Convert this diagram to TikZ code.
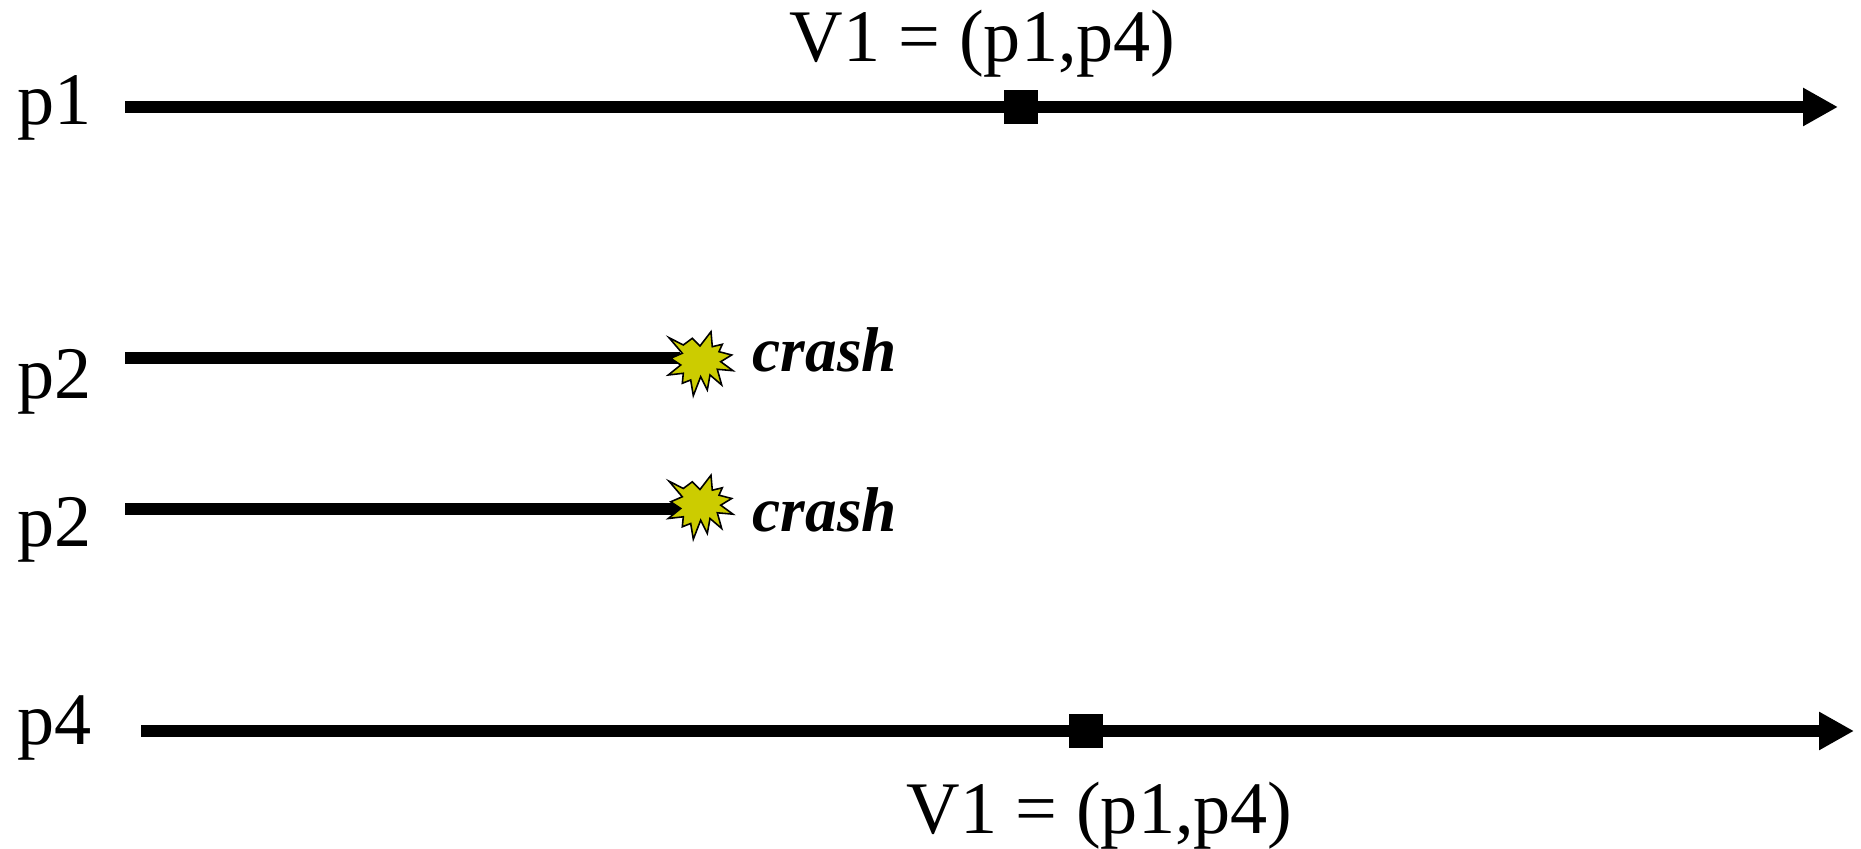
\documentclass[tikz,border=0pt]{standalone}
\usepackage{fontspec}
\setmainfont{Liberation Serif}
\usepackage{xcolor}
\usetikzlibrary{arrows.meta}
\definecolor{burst}{HTML}{CCCC00}
\tikzset{
  every picture/.style={line join=miter},
  timeline/.style={line width=3.6pt},
  arrowline/.style={timeline,-{Triangle[length=0.35cm,width=0.36cm]}},
  proclabel/.style={anchor=base west,inner sep=0pt,font=\fontsize{21.1}{24}\selectfont},
  crashlabel/.style={anchor=base west,inner sep=0pt,font=\fontsize{18}{22}\selectfont\bfseries\itshape},
  markbox/.style={fill=black,inner sep=0pt,minimum size=0.34cm},
  crashstar/.pic={
    \filldraw[fill=burst,draw=black,line width=0.45pt]
      (-0.310,0.223)--(-0.167,0.150)--(-0.077,0.217)--(0.000,0.140)--(0.110,0.283)--(0.123,0.133)
      --(0.223,0.157)--(0.190,0.083)--(0.317,0.050)--(0.207,-0.017)--(0.330,-0.107)--(0.173,-0.093)
      --(0.217,-0.250)--(0.100,-0.150)--(0.073,-0.300)--(0.007,-0.167)--(-0.067,-0.357)--(-0.093,-0.200)
      --(-0.177,-0.233)--(-0.167,-0.133)--(-0.317,-0.150)--(-0.193,-0.050)--(-0.293,0.017)--(-0.177,0.067)--cycle;
  },
}
\begin{document}
\begin{tikzpicture}
\useasboundingbox (0,0) rectangle (18.610,8.490);
\node[proclabel] (p1label) at (0.170,7.240) {p1};
\node[proclabel] (p2label) at (0.170,4.500) {p2};
\node[proclabel] (p3label) at (0.170,3.020) {p2};
\node[proclabel] (p4label) at (0.170,1.040) {p4};
\coordinate (p1start) at (1.250,7.420);
\coordinate (p1end) at (18.380,7.420);
\coordinate (p2start) at (1.250,4.910);
\coordinate (p2end) at (6.800,4.910);
\coordinate (p3start) at (1.250,3.400);
\coordinate (p3end) at (6.800,3.400);
\coordinate (p4start) at (1.410,1.180);
\coordinate (p4end) at (18.540,1.180);
\draw[arrowline] (p1start) -- (p1end);
\draw[timeline] (p2start) -- (p2end);
\draw[timeline] (p3start) -- (p3end);
\draw[arrowline] (p4start) -- (p4end);
\node[markbox] (p1view) at (10.210,7.420) {};
\node[markbox] (p4view) at (10.860,1.180) {};
\node[proclabel] (p1viewlabel) at (7.890,7.870) {V1 = (p1,p4)};
\node[proclabel] (p4viewlabel) at (9.060,0.150) {V1 = (p1,p4)};
\pic at (7.000,4.890) {crashstar};
\pic at (7.000,3.455) {crashstar};
\node[crashlabel] (p2crash) at (7.520,4.770) {crash};
\node[crashlabel] (p3crash) at (7.520,3.175) {crash};
\end{tikzpicture}
\end{document}
